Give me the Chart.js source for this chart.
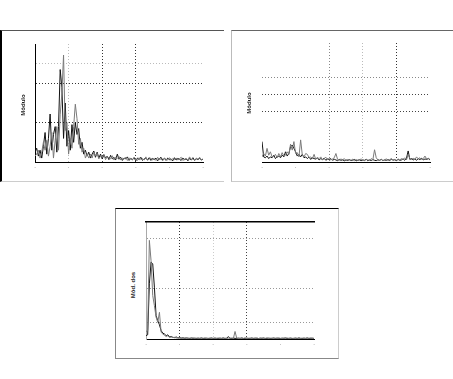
<!DOCTYPE html>
<html>
<head>
<meta charset="utf-8">
<script src="https://cdn.jsdelivr.net/npm/chart.js@4/dist/chart.umd.min.js"></script>
<style>
  body { margin: 0; background: #fff; width: 453px; height: 379px; position: relative; overflow: hidden; }
  .box { position: absolute; box-sizing: border-box; }
  .chart { position: absolute; }
  .ylab { position: absolute; font: bold 6px "Liberation Sans", sans-serif; color: #222;
          transform: translate(-50%, -50%) rotate(-90deg); white-space: nowrap; }
</style>
</head>
<body>
<div class="box" style="left:0;top:30px;width:224px;height:152px;border-left:2px solid #000;border-top:1px solid #555;border-bottom:1px solid #ccc;"></div>
<div class="box" style="left:231px;top:30px;width:222px;height:152px;border-left:1px solid #bbb;border-top:1px solid #666;border-bottom:1px solid #ccc;"></div>
<div class="box" style="left:115px;top:208px;width:224px;height:151px;border:1px solid #888;border-top-color:#000;border-right-color:#ccc;"></div>

<canvas id="c1" class="chart" width="188" height="133" style="left:25px;top:39px"></canvas>
<canvas id="c2" class="chart" width="188" height="134" style="left:252px;top:38px"></canvas>
<canvas id="c3" class="chart" width="188" height="132" style="left:136px;top:217px"></canvas>

<div class="ylab" style="left:23px;top:105px">Módulo</div>
<div class="ylab" style="left:249px;top:103px">Módulo</div>
<div class="ylab" style="left:133px;top:285px">Mód. dos</div>

<script>
// sample spacing along the x axis (0..500)
var step = 5;
var xTicks = [0, 100, 200, 300, 400, 500];

// panel 1 (top left)
var black1 = [
  0.25, 0.35, 0.15, 0.3, 0.1, 0.4, 0.75, 0.2, 0.6, 1.22,
  0.3, 0.7, 0.9, 0.25, 0.9, 2.35, 1.9, 0.6, 1.5, 0.4,
  0.8, 0.3, 0.95, 0.5, 1.0, 0.7, 0.85, 0.35, 0.5, 0.2,
  0.3, 0.15, 0.25, 0.1, 0.2, 0.28, 0.12, 0.25, 0.1, 0.2,
  0.08, 0.18, 0.1, 0.15, 0.06, 0.17, 0.08, 0.12, 0.05, 0.2,
  0.07, 0.12, 0.04, 0.1, 0.08, 0.13, 0.04, 0.09, 0.06, 0.11,
  0.03, 0.1, 0.06, 0.12, 0.04, 0.08, 0.1, 0.05, 0.11, 0.04,
  0.09, 0.06, 0.1, 0.03, 0.08, 0.12, 0.05, 0.09, 0.04, 0.1,
  0.06, 0.08, 0.03, 0.11, 0.05, 0.09, 0.07, 0.04, 0.1, 0.06,
  0.08, 0.03, 0.09, 0.05, 0.11, 0.04, 0.08, 0.06, 0.1, 0.05, 0.07
];
var gray1 = [
  0.15, 0.2, 0.3, 0.1, 0.25, 0.5, 0.3, 0.55, 0.15, 0.4,
  0.75, 0.1, 0.55, 0.9, 0.3, 1.2, 1.75, 2.72, 0.8, 1.0,
  0.2, 0.6, 0.35, 0.9, 1.47, 1.1, 0.45, 0.6, 0.25, 0.35,
  0.1, 0.2, 0.1, 0.2, 0.1, 0.25, 0.15, 0.22, 0.08, 0.15,
  0.12, 0.2, 0.06, 0.14, 0.1, 0.08, 0.16, 0.05, 0.12, 0.09,
  0.14, 0.05, 0.1, 0.07, 0.12, 0.04, 0.1, 0.08, 0.05, 0.12,
  0.07, 0.04, 0.11, 0.06, 0.09, 0.05, 0.13, 0.04, 0.08, 0.1,
  0.05, 0.09, 0.04, 0.12, 0.06, 0.08, 0.03, 0.1, 0.07, 0.05,
  0.11, 0.04, 0.09, 0.06, 0.1, 0.05, 0.08, 0.12, 0.04, 0.07,
  0.09, 0.05, 0.13, 0.06, 0.08, 0.04, 0.1, 0.07, 0.12, 0.05, 0.08
];
var yMax1 = 3;
var gridX1 = [100, 200, 300];
var gridY1 = [1, 2, 2.5];

// panel 2 (top right)
var black2 = [
  1.2, 0.3, 0.25, 0.35, 0.2, 0.3, 0.25, 0.4, 0.2, 0.3,
  0.35, 0.25, 0.4, 0.3, 0.6, 0.35, 0.5, 0.9, 1.0, 0.8,
  0.6, 0.35, 0.45, 0.3, 0.45, 0.25, 0.3, 0.2, 0.3, 0.15,
  0.25, 0.2, 0.18, 0.25, 0.12, 0.2, 0.15, 0.22, 0.1, 0.18,
  0.14, 0.2, 0.1, 0.16, 0.12, 0.08, 0.15, 0.1, 0.13, 0.07,
  0.12, 0.09, 0.14, 0.08, 0.11, 0.15, 0.07, 0.1, 0.13, 0.08,
  0.12, 0.1, 0.16, 0.07, 0.12, 0.09, 0.14, 0.1, 0.08, 0.13,
  0.1, 0.15, 0.08, 0.12, 0.1, 0.14, 0.09, 0.16, 0.11, 0.13,
  0.08, 0.15, 0.1, 0.12, 0.18, 0.1, 0.22, 0.65, 0.15, 0.2,
  0.12, 0.18, 0.1, 0.2, 0.14, 0.22, 0.12, 0.18, 0.15, 0.2, 0.12
];
var gray2 = [
  0.3, 0.5, 0.35, 0.8, 0.4, 0.6, 0.3, 0.35, 0.45, 0.25,
  0.5, 0.3, 0.55, 0.35, 0.4, 0.6, 0.45, 1.05, 0.7, 1.2,
  0.5, 0.55, 0.3, 1.3, 0.4, 0.3, 0.5, 0.45, 0.25, 0.3,
  0.2, 0.45, 0.15, 0.25, 0.2, 0.3, 0.12, 0.2, 0.28, 0.15,
  0.2, 0.12, 0.18, 0.25, 0.5, 0.15, 0.1, 0.18, 0.12, 0.2,
  0.08, 0.15, 0.12, 0.1, 0.16, 0.08, 0.14, 0.1, 0.12, 0.18,
  0.1, 0.08, 0.15, 0.12, 0.1, 0.2, 0.14, 0.72, 0.25, 0.12,
  0.1, 0.16, 0.08, 0.13, 0.18, 0.1, 0.14, 0.2, 0.12, 0.15,
  0.1, 0.18, 0.12, 0.2, 0.15, 0.25, 0.12, 0.45, 0.2, 0.15,
  0.22, 0.14, 0.3, 0.18, 0.25, 0.15, 0.2, 0.35, 0.18, 0.22, 0.15
];
var yMax2 = 7;
var gridX2 = [200, 300, 400];
var gridY2 = [3, 4, 5];

// panel 3 (bottom)
var black3 = [
  0.2, 0.25, 3.3, 4.6, 4.5, 3.1, 1.4, 1.1, 0.85, 0.5,
  0.35, 0.3, 0.2, 0.25, 0.12, 0.15, 0.1, 0.08, 0.12, 0.06,
  0.08, 0.05, 0.07, 0.04, 0.06, 0.05, 0.03, 0.06, 0.04, 0.05,
  0.03, 0.05, 0.04, 0.06, 0.03, 0.04, 0.05, 0.03, 0.04, 0.06,
  0.03, 0.05, 0.04, 0.03, 0.05, 0.04, 0.06, 0.03, 0.05, 0.14,
  0.04, 0.03, 0.05, 0.04, 0.03, 0.05, 0.04, 0.06, 0.03, 0.04,
  0.05, 0.03, 0.04, 0.06, 0.03, 0.05, 0.04, 0.03, 0.05, 0.04,
  0.06, 0.03, 0.04, 0.05, 0.03, 0.04, 0.06, 0.03, 0.05, 0.04,
  0.03, 0.05, 0.04, 0.06, 0.03, 0.04, 0.05, 0.03, 0.04, 0.05,
  0.03, 0.06, 0.04, 0.03, 0.05, 0.04, 0.06, 0.03, 0.04, 0.05, 0.03
];
var gray3 = [
  0.45, 0.5, 5.9, 4.7, 2.6, 2.0, 1.3, 1.0, 1.6, 0.4,
  0.3, 0.22, 0.15, 0.2, 0.1, 0.12, 0.08, 0.1, 0.06, 0.08,
  0.05, 0.07, 0.04, 0.06, 0.05, 0.03, 0.05, 0.04, 0.06, 0.03,
  0.05, 0.04, 0.03, 0.05, 0.04, 0.06, 0.03, 0.04, 0.05, 0.03,
  0.04, 0.05, 0.03, 0.06, 0.04, 0.03, 0.05, 0.04, 0.03, 0.05,
  0.04, 0.06, 0.03, 0.45, 0.05, 0.04, 0.03, 0.05, 0.04, 0.06,
  0.03, 0.05, 0.04, 0.03, 0.05, 0.04, 0.06, 0.03, 0.04, 0.05,
  0.03, 0.04, 0.06, 0.03, 0.05, 0.04, 0.03, 0.05, 0.04, 0.06,
  0.04, 0.03, 0.05, 0.04, 0.06, 0.03, 0.05, 0.04, 0.03, 0.05,
  0.04, 0.06, 0.03, 0.05, 0.04, 0.03, 0.05, 0.04, 0.06, 0.03, 0.04
];
var yMax3 = 7;
var gridX3 = [100, 200, 300];
var gridY3 = [1, 3, 6];

(function () {
  function points(values) {
    return values.map(function (v, i) {
      return { x: i * step, y: v };
    });
  }

  function lineSet(values, color) {
    return {
      data: points(values),
      borderColor: color,
      borderWidth: 1,
      pointRadius: 0,
      tension: 0,
      fill: false,
    };
  }

  // colour of each dotted grid line, keyed by tick value
  function gridColor(lines, colors) {
    return function (c) {
      var k = lines.indexOf(c.tick ? c.tick.value : NaN);
      return k < 0 ? 'rgba(0,0,0,0)' : colors[k];
    };
  }

  function makeChart(id, black, gray, yMax, gx, gy, look) {
    var scales = {
      x: {
        type: 'linear',
        min: 0,
        max: 500,
        afterBuildTicks: function (s) {
          s.ticks = xTicks.map(function (v) { return { value: v }; });
        },
        afterFit: function (s) { s.height = 10; },
        ticks: {
          color: '#999',
          padding: 0,
          font: { family: 'DejaVu Sans', size: 7 },
          maxRotation: 0,
          callback: function () { return '.'; },
        },
        grid: { color: gridColor(gx, look.gxColors), drawTicks: false, lineWidth: 1 },
        border: { display: true, color: '#000', width: 1, dash: [1, 2] },
      },
      y: {
        min: 0,
        max: yMax,
        afterBuildTicks: function (s) {
          s.ticks = [0].concat(gy, [yMax]).map(function (v) { return { value: v }; });
        },
        afterFit: function (s) { s.width = 10; },
        ticks: { display: false },
        grid: { color: gridColor(gy, look.gyColors), drawTicks: false, lineWidth: 1 },
        border: { display: look.yBorder !== null, color: look.yBorder || '#000', width: 1, dash: [1, 2] },
      },
    };
    if (look.topLine) {
      scales.x2 = {
        type: 'linear',
        position: 'top',
        min: 0,
        max: 500,
        afterFit: function (s) { s.height = 0; },
        ticks: { display: false },
        grid: { display: false, drawTicks: false },
        border: { display: true, color: '#000', width: 1.5 },
      };
    }
    new Chart(document.getElementById(id), {
      type: 'line',
      data: { datasets: [lineSet(gray, '#7a7a7a'), lineSet(black, '#111')] },
      options: {
        responsive: false,
        animation: false,
        layout: { padding: { top: 5, right: 10, left: 0, bottom: 0 } },
        plugins: { legend: { display: false }, tooltip: { enabled: false } },
        scales: scales,
      },
    });
  }

  makeChart('c1', black1, gray1, yMax1, gridX1, gridY1, {
    gxColors: ['#bbb', '#333', '#333'],
    gyColors: ['#333', '#333', '#bbb'],
    yBorder: '#000',
  });
  makeChart('c2', black2, gray2, yMax2, gridX2, gridY2, {
    gxColors: ['#888', '#bbb', '#333'],
    gyColors: ['#444', '#444', '#888'],
    yBorder: null,
  });
  makeChart('c3', black3, gray3, yMax3, gridX3, gridY3, {
    gxColors: ['#333', '#ccc', '#444'],
    gyColors: ['#999', '#999', '#999'],
    yBorder: '#aaa',
    topLine: true,
  });
})();
</script>
</body>
</html>
